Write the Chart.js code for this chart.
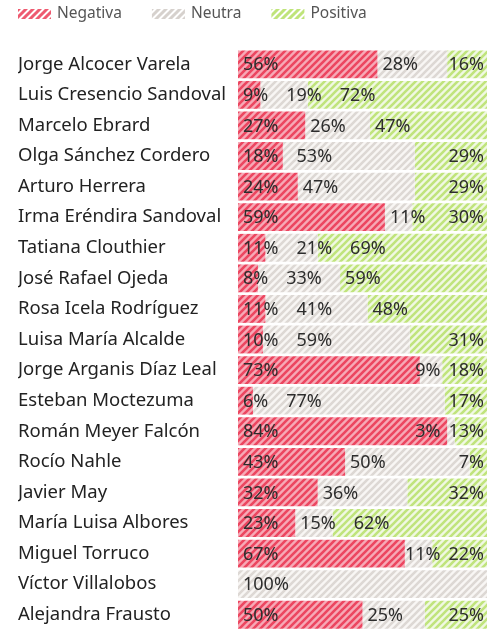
<!DOCTYPE html>
<html>
<head>
<meta charset="utf-8">
<script src="https://cdn.jsdelivr.net/npm/chart.js@4/dist/chart.umd.min.js"></script>
<style>
  html, body { margin: 0; padding: 0; background: #fff; }
  #wrap { width: 497px; height: 631px; }
</style>
</head>
<body>
<div id="wrap"><canvas id="bars"></canvas></div>
<script>
const names = [
  "Jorge Alcocer Varela", "Luis Cresencio Sandoval", "Marcelo Ebrard",
  "Olga Sánchez Cordero", "Arturo Herrera", "Irma Eréndira Sandoval",
  "Tatiana Clouthier", "José Rafael Ojeda", "Rosa Icela Rodríguez",
  "Luisa María Alcalde", "Jorge Arganis Díaz Leal", "Esteban Moctezuma",
  "Román Meyer Falcón", "Rocío Nahle", "Javier May", "María Luisa Albores",
  "Miguel Torruco", "Víctor Villalobos", "Alejandra Frausto"
];
const negativa = [56, 9, 27, 18, 24, 59, 11, 8, 11, 10, 73, 6, 84, 43, 32, 23, 67, 0, 50];
const neutra   = [28, 19, 26, 53, 47, 11, 21, 33, 41, 59, 9, 77, 3, 50, 36, 15, 11, 100, 25];
const positiva = [16, 72, 47, 29, 29, 30, 69, 59, 48, 31, 18, 17, 13, 7, 32, 62, 22, 0, 25];

const FONT = "'Noto Sans'";

// diagonal hatch fill
function hatch(bg, line, w) {
  const s = 7;
  const c = document.createElement("canvas");
  c.width = s; c.height = s;
  const g = c.getContext("2d");
  if (bg) {
    g.fillStyle = bg;
    g.fillRect(0, 0, s, s);
  }
  g.strokeStyle = line;
  g.lineWidth = w || 2.6;
  g.beginPath();
  g.moveTo(0, s); g.lineTo(s, 0);
  g.moveTo(-1, 1); g.lineTo(1, -1);
  g.moveTo(s - 1, s + 1); g.lineTo(s + 1, s - 1);
  g.stroke();
  return g.createPattern(c, "repeat");
}

const legendFills = [
  hatch(null, "#ee5a70", 3),
  hatch(null, "#d6d1cd", 3),
  hatch(null, "#bfe47a", 3)
];

// legend drawn by hand, stripes only like the print version
const stripeLegend = {
  id: "stripeLegend",
  afterDraw(chart) {
    const ctx = chart.ctx;
    ctx.save();
    ctx.font = "15.5px " + FONT;
    ctx.textBaseline = "middle";
    let x = 18;
    chart.data.datasets.forEach((ds, i) => {
      ctx.fillStyle = legendFills[i];
      ctx.fillRect(x, 9, 33, 10);
      ctx.fillStyle = "#555";
      ctx.fillText(ds.label, x + 39, 14);
      x += 39 + ctx.measureText(ds.label).width + 30;
    });
    ctx.restore();
  }
};

const pctLabels = {
  id: "pctLabels",
  afterDatasetsDraw(chart) {
    const ctx = chart.ctx;
    const right = chart.chartArea.right;
    ctx.save();
    ctx.font = "18px " + FONT;
    ctx.fillStyle = "#2d2d2d";
    ctx.textAlign = "left";
    ctx.textBaseline = "middle";
    chart.data.labels.forEach((_, j) => {
      const items = [];
      chart.data.datasets.forEach((ds, i) => {
        const v = ds.data[j];
        if (!v) return;
        const bar = chart.getDatasetMeta(i).data[j];
        const txt = v + "%";
        items.push({ txt, i, v, start: Math.min(bar.base, bar.x), y: bar.y, w: ctx.measureText(txt).width });
      });
      let prevEnd = -Infinity;
      items.forEach(it => {
        if (it.i === 2 && it.v <= 32) it.x = right - 3 - it.w;
        else it.x = Math.max(it.start + 5, prevEnd + 18);
        prevEnd = it.x + it.w;
      });
      for (let k = items.length - 1; k >= 0; k--) {
        const lim = k === items.length - 1 ? right - 2 : items[k + 1].x - 8;
        if (items[k].x + items[k].w > lim) items[k].x = lim - items[k].w;
      }
      items.forEach(it => ctx.fillText(it.txt, it.x, it.y + 1));
    });
    ctx.restore();
  }
};

new Chart(document.getElementById("bars"), {
  type: "bar",
  data: {
    labels: names,
    datasets: [
      { label: "Negativa", data: negativa, backgroundColor: hatch("#f6a9b6", "#ec4660") },
      { label: "Neutra", data: neutra, backgroundColor: hatch("#f8f6f4", "#ddd8d4") },
      { label: "Positiva", data: positiva, backgroundColor: hatch("#f0f8e2", "#c0e47c") }
    ]
  },
  options: {
    indexAxis: "y",
    responsive: true,
    maintainAspectRatio: false,
    animation: false,
    layout: { padding: { left: 18, right: 10, top: 49, bottom: 0 } },
    datasets: { bar: { categoryPercentage: 0.91, barPercentage: 1 } },
    scales: {
      x: {
        stacked: true, min: 0, max: 100,
        display: false
      },
      y: {
        stacked: true,
        grid: { display: false },
        border: { display: false },
        ticks: {
          crossAlign: "far",
          padding: 0,
          color: "#222",
          font: { family: FONT, size: 18.5, lineHeight: 0.1 }
        },
        afterFit(scale) { scale.width = 220; }
      }
    },
    plugins: {
      tooltip: { enabled: false },
      legend: { display: false }
    }
  },
  plugins: [pctLabels, stripeLegend]
});
</script>
</body>
</html>
